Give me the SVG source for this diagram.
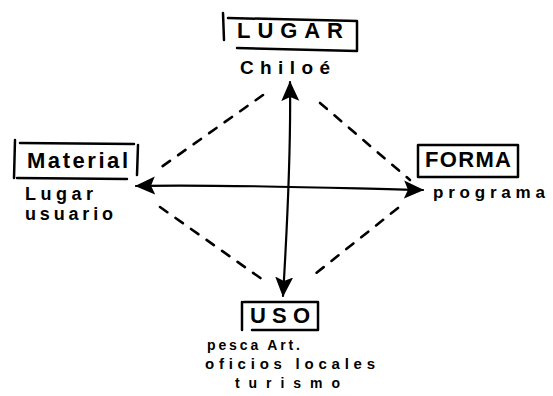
<svg xmlns="http://www.w3.org/2000/svg" width="553" height="396" viewBox="0 0 553 396">
<style>
.box{fill:none;stroke:#000;stroke-width:2.5;stroke-linecap:round;stroke-linejoin:round}
.lbl{font-family:"Liberation Sans",Arial,sans-serif;fill:#000;font-weight:bold}
.dash{fill:none;stroke:#000;stroke-width:2.6;stroke-dasharray:9 10;stroke-linecap:round}
.axis{fill:none;stroke:#000;stroke-width:2.2;stroke-linecap:round}
</style>
<defs>
<marker id="ah2" viewBox="0 0 20 20" refX="19" refY="10" markerWidth="20" markerHeight="20" markerUnits="userSpaceOnUse" orient="auto-start-reverse">
<path d="M0,1 L20,10 L0,19 L4,10 Z" fill="#000"/>
</marker>
</defs>
<rect width="553" height="396" fill="#fff"/>
<g id="connectors">
<path class="dash" d="M263,95 L160,168"/>
<path class="dash" d="M160,207 L266,282"/>
<path class="dash" d="M320,103 L410,180"/>
<path class="dash" d="M398,208 L310,278"/>
<path class="axis" d="M290,82 C291,150 287,230 283,296" marker-start="url(#ah2)" marker-end="url(#ah2)"/>
<path class="axis" d="M136,186 C220,184 330,188 423,190" marker-start="url(#ah2)" marker-end="url(#ah2)"/>
</g>
<g id="lugar">
<path class="box" d="M223,13 L224,40 M228,18 L357,21 L357,51 L237,48"/>
<text class="lbl" x="237" y="38" font-size="22" textLength="106" lengthAdjust="spacing">LUGAR</text>
<text class="lbl" x="240" y="74" font-size="19" textLength="90" lengthAdjust="spacing">Chiloé</text>
</g>
<g id="material">
<path class="box" d="M15,140 L14,178 M20,143 L134,144 M138,145 L137,175 M17,178 L127,179"/>
<text class="lbl" x="27" y="168" font-size="22" textLength="101" lengthAdjust="spacing">Material</text>
<text class="lbl" x="25" y="200" font-size="18" textLength="68" lengthAdjust="spacing">Lugar</text>
<text class="lbl" x="25" y="220" font-size="18" textLength="88" lengthAdjust="spacing">usuario</text>
</g>
<g id="forma">
<path class="box" d="M418,145 L518,145 L518,177 L418,177 Z"/>
<text class="lbl" x="425" y="167" font-size="22" textLength="86" lengthAdjust="spacing">FORMA</text>
<text class="lbl" x="433" y="198" font-size="17" textLength="112" lengthAdjust="spacing">programa</text>
</g>
<g id="uso">
<path class="box" d="M242,302 L242,330 M244,302 L318,302 L318,330 L252,330"/>
<text class="lbl" x="250" y="323" font-size="22" textLength="60" lengthAdjust="spacing">USO</text>
<text class="lbl" x="207" y="350" font-size="14" textLength="93" lengthAdjust="spacing">pesca Art.</text>
<text class="lbl" x="205" y="369" font-size="15" textLength="170" lengthAdjust="spacing">oficios locales</text>
<text class="lbl" x="235" y="388" font-size="14" textLength="105" lengthAdjust="spacing">turismo</text>
</g>
</svg>
